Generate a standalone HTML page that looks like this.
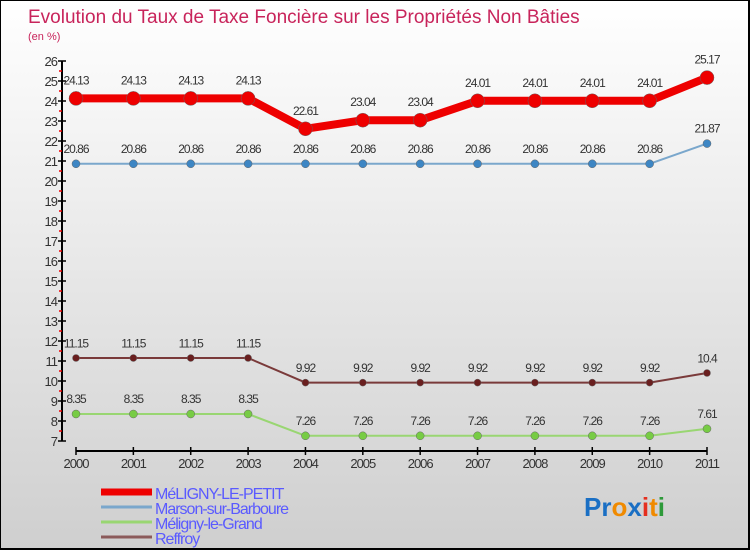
<!DOCTYPE html>
<html><head><meta charset="utf-8"><style>
body{margin:0}
#wrap{position:relative;width:750px;height:550px;overflow:hidden;background:linear-gradient(#ffffff,#cfcfcf);box-sizing:border-box;border:1px solid #000;border-right:2px solid #000;border-bottom:2px solid #000;font-family:"Liberation Sans",sans-serif}
</style></head><body>
<div id="wrap">
<svg id="svg" width="750" height="550" style="position:absolute;left:0;top:0">
<text x="27" y="22" font-size="19" fill="#c8245b">Evolution du Taux de Taxe Foncière sur les Propriétés Non Bâties</text>
<text x="27" y="39" font-size="11" fill="#c8245b">(en %)</text>
<g id="axes"></g><g id="series"></g><g id="legend"></g>
<text x="583" y="515" font-size="26" font-weight="bold"><tspan fill="#1a6fc4">Pr</tspan><tspan fill="#f08a00">o</tspan><tspan fill="#1a6fc4">x</tspan><tspan fill="#e52f1f">i</tspan><tspan fill="#f08a00">t</tspan><tspan fill="#2e9a3a">i</tspan></text>
</svg>
</div>
<script>
const years=[2000,2001,2002,2003,2004,2005,2006,2007,2008,2009,2010,2011];
const meligny=[24.13,24.13,24.13,24.13,22.61,23.04,23.04,24.01,24.01,24.01,24.01,25.17];
const marson=[20.86,20.86,20.86,20.86,20.86,20.86,20.86,20.86,20.86,20.86,20.86,21.87];
const grand=[8.35,8.35,8.35,8.35,7.26,7.26,7.26,7.26,7.26,7.26,7.26,7.61];
const reffroy=[11.15,11.15,11.15,11.15,9.92,9.92,9.92,9.92,9.92,9.92,9.92,10.4];
const yTicks=[7,8,9,10,11,12,13,14,15,16,17,18,19,20,21,22,23,24,25,26];
const seriesNames=["MéLIGNY-LE-PETIT","Marson-sur-Barboure","Méligny-le-Grand","Reffroy"];
const NS="http://www.w3.org/2000/svg";
function X(i){return 75+i*(706-75)/11;}
function Y(v){return 440-(v-7)*20;}
function mk(t,a,p){const e=document.createElementNS(NS,t);for(const k in a)e.setAttribute(k,a[k]);p.appendChild(e);return e;}
const ax=document.getElementById('axes');
let l=mk('line',{x1:61,y1:Y(26),x2:61,y2:Y(7),stroke:'#000','stroke-width':2},ax);


yTicks.forEach(v=>{
 mk('line',{x1:57,y1:Y(v),x2:65,y2:Y(v),stroke:'#000','stroke-width':1.5},ax);
 if(v<26)mk('line',{x1:58,y1:Y(v+0.5),x2:61,y2:Y(v+0.5),stroke:'#e00','stroke-width':1.5},ax);
 const t=mk('text',{x:56,y:Y(v)+5,'font-size':13,'text-anchor':'end',fill:'#333','letter-spacing':'-1'},ax);
 t.textContent=v;
 
 
});
l=mk('line',{x1:X(0),y1:450,x2:X(11),y2:450,stroke:'#000','stroke-width':2},ax);


years.forEach((yr,i)=>{
 mk('line',{x1:X(i),y1:446,x2:X(i),y2:454,stroke:'#000','stroke-width':1.5},ax);
 const t=mk('text',{x:X(i),y:467,'font-size':13,'text-anchor':'middle',fill:'#333','letter-spacing':'-1'},ax);
 t.textContent=yr;
 
 
});
const sg=document.getElementById('series');
function draw(data,name,color,w,r,dot){
 const g=mk('g',{},sg);
 
 
 mk('polyline',{points:data.map((v,i)=>X(i)+','+Y(v)).join(' '),fill:'none',stroke:color,'stroke-width':w,'stroke-linejoin':'round'},g);
 data.forEach((v,i)=>{
  const c=mk('circle',{cx:X(i),cy:Y(v),r:r,fill:dot,stroke:'#666','stroke-width':0.5},g);
  
  
  const t=mk('text',{x:X(i),y:Y(v)-(r+7),'font-size':12,'text-anchor':'middle',fill:'#333','letter-spacing':'-1'},g);
  t.textContent=String(v);
  
  
 });
}
draw(marson,'series-marson','#7aa7cc',2,4,'#3d86c4');
draw(grand,'series-meligny-grand','#99d672',2,4,'#77cc44');
draw(reffroy,'series-reffroy','#7a3a3a',2,3.5,'#6a1f1f');
draw(meligny,'series-meligny-petit','#ee0000',8,7,'#ee0000');
const lg=document.getElementById('legend');
const lc=['#ee0000','#7aa7cc','#99d672','#8b5a5a'],lw=[7,3,3,3],ly=[493,508,523,538];
seriesNames.forEach((n,i)=>{
 const g=mk('g',{},lg);
 
 
 mk('line',{x1:100,y1:ly[i]-2,x2:151,y2:ly[i]-2,stroke:lc[i],'stroke-width':lw[i]},g);
 const t=mk('text',{x:154,y:ly[i]+5,'font-size':16,fill:'#5a5aff','letter-spacing':'-1'},g);
 t.textContent=n;
});
</script>
</body></html>
